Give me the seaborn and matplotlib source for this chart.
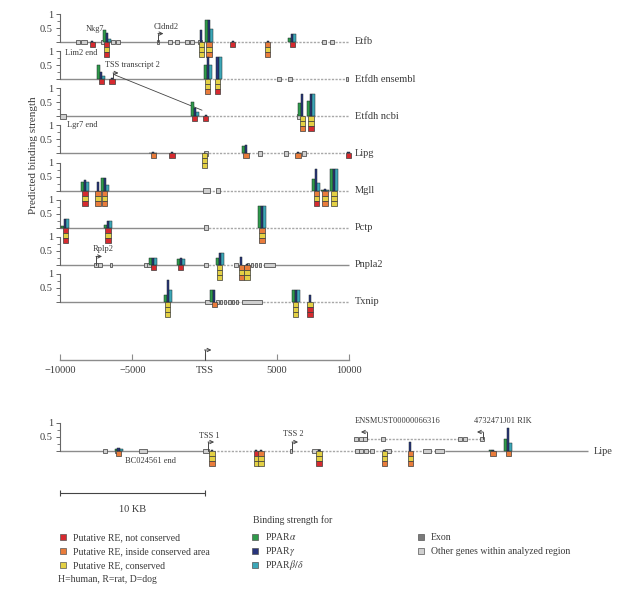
import matplotlib
matplotlib.use("Agg")
import matplotlib.pyplot as plt
import seaborn as sns
from matplotlib.patches import Rectangle

sns.set_theme(style="white")
plt.rcParams["font.family"] = ["Liberation Serif", "DejaVu Serif"]
plt.rcParams["mathtext.fontset"] = "stix"

# ------------------------------------------------------------------ data
track_names = ["Etfb", "Etfdh ensembl", "Etfdh ncbi", "Lipg", "Mgll", "Pctp", "Pnpla2", "Txnip"]

# site positions (bp relative to TSS), binding strengths (PPARa, PPARg, PPARb/d), RE stacks
etfb_pos = [-7780, -6750, -240, 310, 1970, 4390, 6060]
etfb_a = [0.0, 0.42, 0.0, 0.78, 0.0, 0.0, 0.15]
etfb_g = [0.05, 0.33, 0.42, 0.78, 0.05, 0.05, 0.30]
etfb_b = [0.0, 0.10, 0.0, 0.48, 0.0, 0.0, 0.30]
etfb_re = ["N", "NCN", "CCC", "ICI", "N", "ICI", "N"]
etfb_exon = [-8750, -8340, -6950, -6330, -5990, -3220, -2390, -1900, -1210, -870, -310, 8270, 8820]
etfb_exon_w = [280, 420, 420, 280, 280, 200, 280, 280, 280, 280, 280, 280, 280]

ens_pos = [-7160, -6400, 240, 900]
ens_a = [0.50, 0.0, 0.50, 0.0]
ens_g = [0.25, 0.04, 0.78, 0.78]
ens_b = [0.10, 0.0, 0.50, 0.78]
ens_re = ["N", "N", "CCI", "CCN"]
ens_exon = [5160, 5920, 9860]
ens_exon_w = [280, 280, 200]

ncbi_pos = [-660, 100, 6750, 7370]
ncbi_a = [0.50, 0.0, 0.48, 0.55]
ncbi_g = [0.30, 0.04, 0.80, 0.80]
ncbi_b = [0.14, 0.0, 0.0, 0.80]
ncbi_re = ["N", "N", "CCI", "CCN"]
ncbi_exon = [-9790, 6540]
ncbi_exon_w = [420, 280]

lipg_pos = [-3560, -2250, 30, 2870, 6470, 9950]
lipg_a = [0.03, 0.0, 0.0, 0.25, 0.0, 0.0]
lipg_g = [0.05, 0.05, 0.03, 0.30, 0.05, 0.04]
lipg_b = [0.03, 0.0, 0.0, 0.0, 0.03, 0.0]
lipg_re = ["I", "N", "CCC", "I", "I", "N"]
lipg_exon = [100, 3840, 5640, 6890]
lipg_exon_w = [280, 280, 280, 280]

mgll_pos = [-8270, -7370, -6890, 7720, 8340, 8960]
mgll_a = [0.30, 0.0, 0.45, 0.40, 0.03, 0.78]
mgll_g = [0.38, 0.30, 0.45, 0.78, 0.05, 0.78]
mgll_b = [0.30, 0.0, 0.20, 0.27, 0.03, 0.78]
mgll_re = ["NCN", "ICI", "ICI", "ICN", "ICI", "CCC"]
mgll_exon = [170, 930]
mgll_exon_w = [480, 280]

pctp_pos = [-9650, -6680, 3980]
pctp_a = [0.05, 0.10, 0.78]
pctp_g = [0.30, 0.25, 0.78]
pctp_b = [0.30, 0.25, 0.78]
pctp_re = ["NCN", "NCN", "ICI"]
pctp_exon = [100]
pctp_exon_w = [280]

pnpla2_pos = [-3560, -1630, 1070, 2530, 2940]
pnpla2_a = [0.26, 0.22, 0.26, 0.0, 0.0]
pnpla2_g = [0.26, 0.26, 0.42, 0.27, 0.04]
pnpla2_b = [0.26, 0.22, 0.42, 0.0, 0.0]
pnpla2_re = ["N", "N", "CCC", "ICI", "ICC"]
pnpla2_exon = [-7510, -7230, -6470, -4050, -3840, 100, 2180, 3010, 3290, 3560, 3840, 4530]
pnpla2_exon_w = [280, 280, 100, 280, 280, 280, 280, 100, 100, 100, 100, 760]

txnip_pos = [-2530, 660, 6330, 7300]
txnip_a = [0.26, 0.42, 0.42, 0.0]
txnip_g = [0.80, 0.42, 0.42, 0.26]
txnip_b = [0.42, 0.0, 0.42, 0.0]
txnip_re = ["CCC", "I", "CCC", "CNN"]
txnip_exon = [310, 930, 1140, 1420, 1700, 1970, 2250, 3290]
txnip_exon_w = [550, 200, 200, 200, 200, 200, 200, 1400]

# gene line segments: (start, end) for intergenic (solid) and gene body (dashed)
solid_segments = [[(-10000, 0)], [(-10000, 0)], [(-10000, 0)], [(-10000, 0)],
                  [(-10000, 0)], [(-10000, 0)], [(-10000, 0), (4900, 10000)], [(-10000, 0)]]
dashed_segments = [[(0, 10000)], [(0, 10000)], [(0, 10000)], [(0, 10000)],
                   [(0, 10000)], [(0, 10000)], [(0, 4900)], [(0, 10000)]]

axis_ticks = [-10000, -5000, 0, 5000, 10000]
axis_labels = ["\u221210000", "\u22125000", "TSS", "5000", "10000"]

# Lipe locus (bp from left end of the analysed region)
lipe_pos = [4050, 10480, 13520, 13860, 17860, 22350, 24140, 29860, 30900]
lipe_a = [0.08, 0.0, 0.0, 0.0, 0.0, 0.0, 0.0, 0.03, 0.42]
lipe_g = [0.10, 0.04, 0.04, 0.04, 0.04, 0.04, 0.32, 0.05, 0.81]
lipe_b = [0.08, 0.0, 0.0, 0.0, 0.0, 0.0, 0.0, 0.0, 0.29]
lipe_re = ["I", "CCI", "NCC", "ICC", "CCN", "CCI", "ICI", "I", "I"]
lipe_exon = [3100, 3860, 5720, 10070, 15930, 17660, 20480, 20760, 21100, 21520, 22620, 25310, 26140]
lipe_exon_w = [280, 200, 550, 350, 150, 550, 280, 280, 280, 280, 350, 550, 620]
lipe_solid = [(0, 10070), (26550, 36410)]
lipe_dashed = [(10070, 26550)]
other_gene_exon = [20410, 20760, 21030, 22280, 27590, 27930, 29100]
other_gene_span = (20410, 29100)

legend_re = ["Putative RE, not conserved", "Putative RE, inside conserved area", "Putative RE, conserved"]
legend_tf = [r"PPAR$\alpha$", r"PPAR$\gamma$", r"PPAR$\beta/\delta$"]
legend_gene = ["Exon", "Other genes within analyzed region"]

# ------------------------------------------------------------------ style
W, H = 626, 590
UNIT = 28.0                      # pixels per binding-strength unit
COL_RE = {"N": "#d62a2f", "I": "#e97c3b", "C": "#e3d044"}
COL_TF = ["#2f9a4b", "#28347c", "#3ca7b8"]
BW = 190            # bp width of one binding bar
BOX_W = 350         # bp width of RE square
BH = 5.0 / UNIT     # height of RE square
EX_H = 4.5 / UNIT
LINE_C = "#8c8c8c"
TXT_C = "#3a3a3a"

fig = plt.figure(figsize=(W / 100, H / 100), dpi=100)


def add_axes_px(left, right, base, height=UNIT):
    ax = fig.add_axes([left / W, 1 - base / H, (right - left) / W, height / H])
    ax.patch.set_alpha(0)
    return ax


def style_track(ax):
    sns.despine(ax=ax, top=True, right=True, bottom=True, left=False)
    ax.spines["left"].set_bounds(0, 1)
    ax.spines["left"].set_color("#666666")
    ax.spines["left"].set_linewidth(0.8)
    ax.set_ylim(0, 1)
    ax.set_yticks([0, 0.5, 1])
    ax.set_yticklabels(["", "0.5", "1"])
    ax.set_yticks([0.25, 0.75], minor=True)
    ax.tick_params(axis="y", which="major", left=True, length=3, width=0.7,
                   color="#666666", labelsize=7.5, pad=2, labelcolor=TXT_C)
    ax.tick_params(axis="y", which="minor", left=True, length=2, width=0.6, color="#666666")
    ax.set_xticks([])
    ax.grid(False)


def draw_track(ax, pos, a, g, b, re, ex, exw, solid, dashed):
    for s, e in solid:
        ax.plot([s, e], [0, 0], color=LINE_C, lw=1.0, zorder=1, clip_on=False,
                solid_capstyle="butt")
    for s, e in dashed:
        ax.plot([s, e], [0, 0], color="#a8a8a8", lw=1.0, ls=(0, (1.6, 1.0)),
                zorder=1, clip_on=False)
    ax.bar(ex, EX_H, width=exw, bottom=-EX_H / 2, color="#cfcfcf",
           edgecolor="#555555", linewidth=0.6, zorder=2, clip_on=False)
    for k, (vals, col) in enumerate(zip((a, g, b), COL_TF)):
        xs = [p + (k - 1) * BW for p, v in zip(pos, vals) if v > 0]
        hs = [v for v in vals if v > 0]
        ax.bar(xs, hs, width=BW, color=col, edgecolor="#1e2a2a", linewidth=0.35,
               zorder=3, clip_on=False)
    for p, stack in zip(pos, re):
        for j, c in enumerate(stack):
            ax.bar(p, -BH, width=BOX_W, bottom=-j * BH, color=COL_RE[c],
                   edgecolor="#3b3b3b", linewidth=0.5, zorder=4, clip_on=False)


def bent_arrow(ax, x, y0, h, dx, color="#444444"):
    ax.plot([x, x], [y0, y0 + h], color=color, lw=0.7, clip_on=False, zorder=5)
    ax.annotate("", xy=(x + dx, y0 + h), xytext=(x, y0 + h),
                arrowprops=dict(arrowstyle="->", color=color, lw=0.7,
                                shrinkA=0, shrinkB=0, mutation_scale=6),
                annotation_clip=False, zorder=5)


# ------------------------------------------------------------------ top panel
tracks = [
    (etfb_pos, etfb_a, etfb_g, etfb_b, etfb_re, etfb_exon, etfb_exon_w),
    (ens_pos, ens_a, ens_g, ens_b, ens_re, ens_exon, ens_exon_w),
    (ncbi_pos, ncbi_a, ncbi_g, ncbi_b, ncbi_re, ncbi_exon, ncbi_exon_w),
    (lipg_pos, lipg_a, lipg_g, lipg_b, lipg_re, lipg_exon, lipg_exon_w),
    (mgll_pos, mgll_a, mgll_g, mgll_b, mgll_re, mgll_exon, mgll_exon_w),
    (pctp_pos, pctp_a, pctp_g, pctp_b, pctp_re, pctp_exon, pctp_exon_w),
    (pnpla2_pos, pnpla2_a, pnpla2_g, pnpla2_b, pnpla2_re, pnpla2_exon, pnpla2_exon_w),
    (txnip_pos, txnip_a, txnip_g, txnip_b, txnip_re, txnip_exon, txnip_exon_w),
]

X_L, X_R = 60, 349
base0, step = 42.0, 37.14
axes = []
for i, (name, tr) in enumerate(zip(track_names, tracks)):
    ax = add_axes_px(X_L, X_R, base0 + i * step)
    ax.set_xlim(-10000, 10000)
    style_track(ax)
    draw_track(ax, *tr, solid_segments[i], dashed_segments[i])
    ax.text(1.02, 0, name, transform=ax.get_yaxis_transform(), ha="left",
            va="center", fontsize=7.5, color=TXT_C)
    axes.append(ax)

ann = dict(fontsize=6, color=TXT_C)
# Etfb annotations
axes[0].text(-7580, 0.46, "Nkg7", ha="center", va="center", **ann)
axes[0].text(-2630, 0.54, "Cldnd2", ha="center", va="center", **ann)
bent_arrow(axes[0], -3220, 0, 0.3, 380)
# Etfdh ensembl
axes[1].text(-9650, 0.93, "Lim2 end", ha="left", va="center", **ann)
axes[1].text(-6890, 0.50, "TSS transcript 2", ha="left", va="center", **ann)
bent_arrow(axes[1], -6330, 0, 0.22, 380)
axes[1].plot([-6200, -170], [0.15, -1.11], color="#444444", lw=0.6, clip_on=False, zorder=5)
# Etfdh ncbi
axes[2].text(-9500, -0.31, "Lgr7 end", ha="left", va="center", zorder=6, **ann)
# Pnpla2
axes[6].text(-7000, 0.57, "Rplp2", ha="center", va="center", **ann)
bent_arrow(axes[6], -7510, 0, 0.3, 420)

fig.text(33 / W, 1 - 155 / H, "Predicted binding strength", rotation=90,
         ha="center", va="center", fontsize=8, color=TXT_C)

# position axis
axp = add_axes_px(X_L, X_R, 360, 10)
axp.set_xlim(-10000, 10000)
axp.set_ylim(0, 1)
sns.despine(ax=axp, left=True, top=True, right=True, bottom=False)
axp.spines["bottom"].set_color(LINE_C)
axp.spines["bottom"].set_linewidth(1.0)
axp.set_yticks([])
axp.set_xticks(axis_ticks)
axp.set_xticklabels(axis_labels)
axp.tick_params(axis="x", direction="in", length=4, width=0.8, color=LINE_C,
                labelsize=7.5, pad=4, labelcolor=TXT_C, bottom=True)
axp.grid(False)
bent_arrow(axp, 0, 0, 1.0, 480)

# ------------------------------------------------------------------ Lipe panel
axl = add_axes_px(60, 588, 451)
axl.set_xlim(0, 36410)
style_track(axl)
draw_track(axl, lipe_pos, lipe_a, lipe_g, lipe_b, lipe_re, lipe_exon, lipe_exon_w,
           lipe_solid, lipe_dashed)
axl.text(1.01, 0, "Lipe", transform=axl.get_yaxis_transform(), ha="left",
         va="center", fontsize=7.5, color=TXT_C)
# other genes on the upper line
yo = 12 / UNIT
axl.plot(list(other_gene_span), [yo, yo], color="#a8a8a8", lw=1.0,
         ls=(0, (1.6, 1.0)), zorder=1, clip_on=False)
axl.bar(other_gene_exon, EX_H, width=280, bottom=yo - EX_H / 2, color="#cfcfcf",
        edgecolor="#555555", linewidth=0.6, zorder=2, clip_on=False)
bent_arrow(axl, 21170, yo, 0.25, -420)
bent_arrow(axl, 29170, yo, 0.25, -420)
axl.text(23280, 1.07, "ENSMUST00000066316", ha="center", va="center", **ann)
axl.text(30550, 1.07, "4732471J01 RIK", ha="center", va="center", **ann)
bent_arrow(axl, 10210, 0, 0.32, 420)
bent_arrow(axl, 16000, 0, 0.32, 420)
axl.text(10300, 0.52, "TSS 1", ha="center", va="center", **ann)
axl.text(16100, 0.62, "TSS 2", ha="center", va="center", **ann)
axl.text(4480, -0.36, "BC024561 end", ha="left", va="center", **ann)

# scale bar
axl.plot([0, 10000], [-1.5, -1.5], color="#444444", lw=0.8, clip_on=False)
axl.plot([0, 10000], [-1.5, -1.5], ls="none", marker="|", ms=5, mew=0.8,
         color="#444444", clip_on=False)
axl.text(5000, -2.1, "10 KB", ha="center", va="center", fontsize=7.5, color=TXT_C)

# ------------------------------------------------------------------ legends
def legend_column(x_px, labels, colors, y0=537, dy=14):
    for i, (lab, col) in enumerate(zip(labels, colors)):
        y = y0 + i * dy
        fig.add_artist(Rectangle(((x_px) / W, 1 - (y + 3) / H), 6 / W, 6 / H,
                                 transform=fig.transFigure, facecolor=col,
                                 edgecolor="#555555", linewidth=0.5))
        fig.text((x_px + 13) / W, 1 - (y + 3) / H, lab, ha="left", va="baseline",
                 fontsize=7, color=TXT_C)


legend_column(60, legend_re, [COL_RE[k] for k in "NIC"])
legend_column(252, legend_tf, COL_TF)
legend_column(418, legend_gene, ["#7a7a7a", "#cfcfcf"])
fig.text(58 / W, 1 - 582 / H, "H=human, R=rat, D=dog", ha="left", va="baseline",
         fontsize=7, color=TXT_C)
fig.text(253 / W, 1 - 523 / H, "Binding strength for", ha="left", va="baseline",
         fontsize=7, color=TXT_C)

fig.savefig("out.png", dpi=100)
